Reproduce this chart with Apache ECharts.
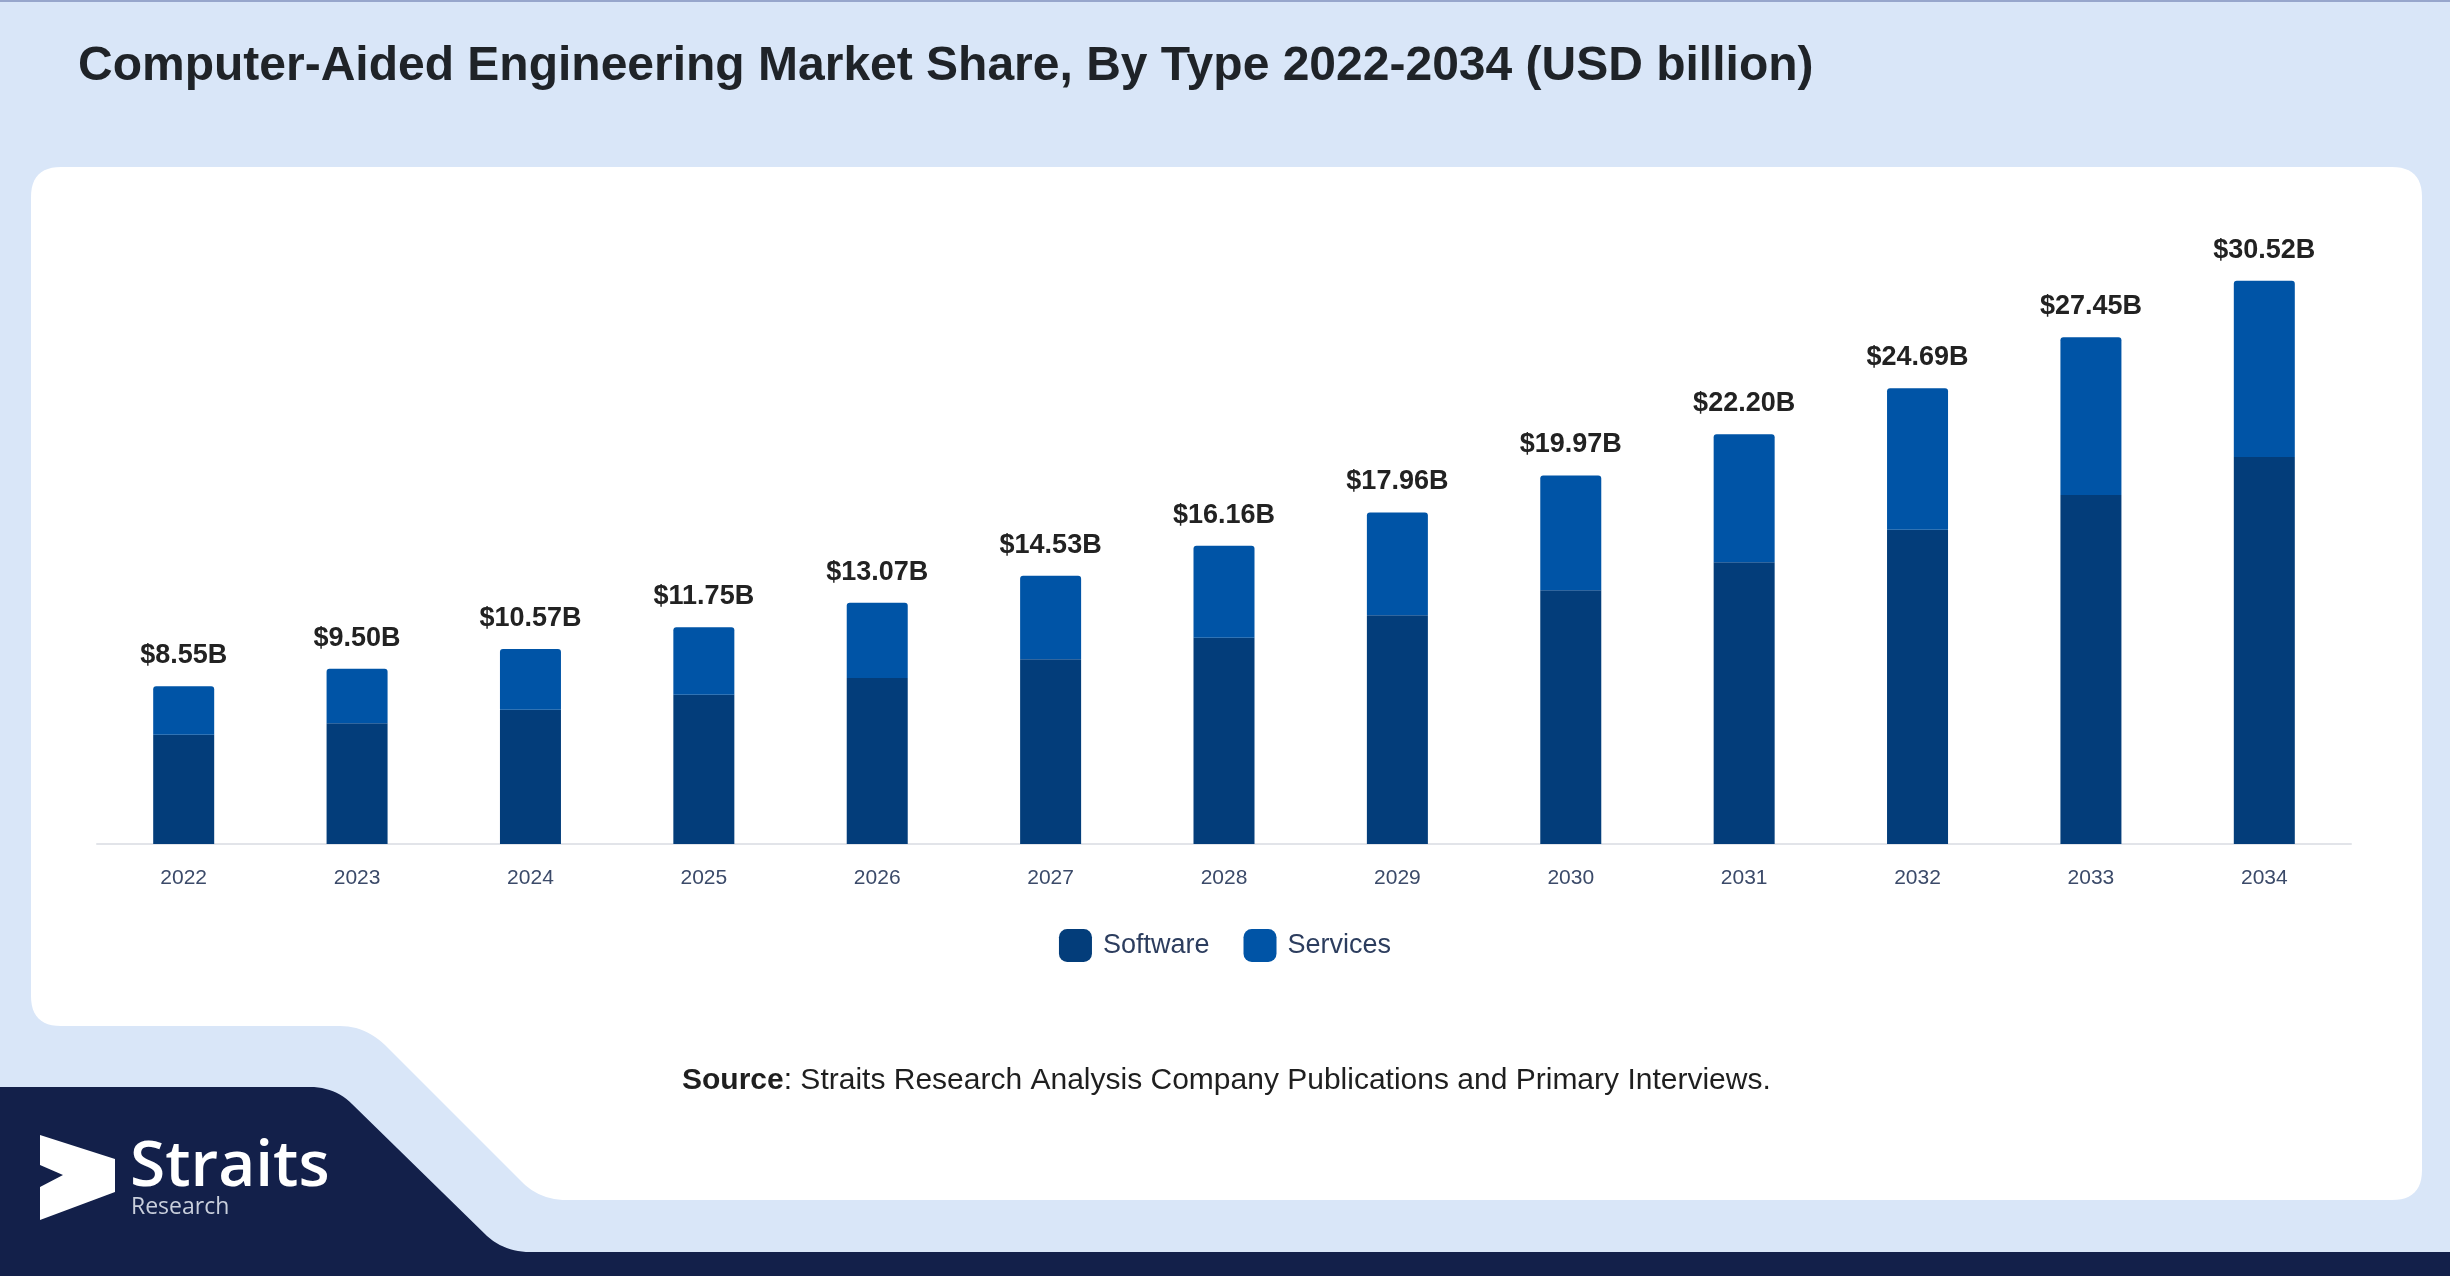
<!DOCTYPE html>
<html>
<head>
<meta charset="utf-8">
<script src="https://cdn.jsdelivr.net/npm/echarts@6/dist/echarts.min.js"></script>
<style>
html,body{margin:0;padding:0;background:#d9e6f8;}
#chart{width:2450px;height:1276px;}
</style>
</head>
<body>
<div id="chart"></div>
<script>
var years = ['2022','2023','2024','2025','2026','2027','2028','2029','2030','2031','2032','2033','2034'];
var software = [5.92, 6.54, 7.27, 8.08, 9.00, 10.01, 11.18, 12.40, 13.75, 15.26, 17.03, 18.91, 20.97];
var services = [2.63, 2.96, 3.30, 3.67, 4.07, 4.52, 4.98, 5.56, 6.22, 6.94, 7.66, 8.54, 9.55];
var totals = [8.55, 9.50, 10.57, 11.75, 13.07, 14.53, 16.16, 17.96, 19.97, 22.20, 24.69, 27.45, 30.52];
var titleText = 'Computer-Aided Engineering Market Share, By Type 2022-2034 (USD billion)';
var sourceText = ': Straits Research Analysis Company Publications and Primary Interviews.';

// decorative outline builder: segments of ['L',x,y] or ['Q',cx,cy,x,y]
function outline(start, segs) {
  var pts = [start.slice()];
  var cur = start.slice();
  segs.forEach(function (s) {
    if (s[0] === 'L') { cur = [s[1], s[2]]; pts.push(cur); }
    else {
      for (var i = 1; i <= 12; i++) {
        var t = i / 12, u = 1 - t;
        pts.push([u*u*cur[0] + 2*u*t*s[1] + t*t*s[3], u*u*cur[1] + 2*u*t*s[2] + t*t*s[4]]);
      }
      cur = [s[3], s[4]];
    }
  });
  return pts;
}
var panelPts = outline([61,167], [
  ['L',2392,167],['Q',2422,167,2422,197],['L',2422,1170],['Q',2422,1200,2392,1200],
  ['L',567,1200],['Q',540,1200,522,1182],['L',385,1045],['Q',365,1026,340,1026],
  ['L',61,1026],['Q',31,1026,31,996],['L',31,197],['Q',31,167,61,167]
]);
var navyPts = outline([0,1087], [
  ['L',310,1087],['Q',335,1087,352,1104],['L',487,1236],['Q',505,1252,530,1252],
  ['L',2450,1252],['L',2450,1276],['L',0,1276]
]);

var chart = echarts.init(document.getElementById('chart'));
var FONT = '"Liberation Sans", Arial, sans-serif';

var option = {
  backgroundColor: '#d9e6f8',
  animation: false,
  graphic: [
    { type: 'rect', z: -10, shape: {x: 0, y: 0, width: 2450, height: 2}, style: {fill: '#97a6cc'} },
    { type: 'polygon', z: -10, shape: { points: panelPts }, style: { fill: '#ffffff' } },
    { type: 'polygon', z: -10, shape: { points: navyPts }, style: { fill: '#13204a' } },
    { type: 'polygon', z: -5,
      shape: { points: [[40,1135],[115,1159],[115,1192],[40,1220],[40,1187],[63,1175],[40,1165]] },
      style: { fill: '#ffffff' } },
    { type: 'text', z: -5, x: 130, y: 1168,
      style: { text: 'Straits', fill: '#ffffff', font: '600 64px "Open Sans", sans-serif', verticalAlign: 'middle', align: 'left' } },
    { type: 'text', z: -5, x: 131, y: 1207,
      style: { text: 'Research', fill: '#c9cfdc', font: '23px "Open Sans", sans-serif', verticalAlign: 'middle', align: 'left' } },
    { type: 'text', x: 78, y: 67,
      style: { text: titleText, fill: '#1f2328', font: 'bold 48px ' + FONT, verticalAlign: 'middle', align: 'left' } },
    { type: 'text', x: 682, y: 1081,
      style: { text: '{b|Source}' + sourceText, fill: '#1f1f1f', font: '30px ' + FONT, verticalAlign: 'middle', align: 'left',
        rich: { b: { fontWeight: 'bold', fontSize: 30, fontFamily: FONT, fill: '#1f1f1f' } } } }
  ],
  legend: {
    left: 'center',
    top: 924,
    icon: 'roundRect',
    itemWidth: 33,
    itemHeight: 33,
    itemGap: 34,
    textStyle: { fontSize: 27, color: '#2c3d5e', fontFamily: FONT, padding: [0,0,0,6] },
    data: ['Software', 'Services']
  },
  grid: { left: 97, right: 99, top: 198, bottom: 432, containLabel: false },
  xAxis: {
    type: 'category',
    data: years,
    axisLine: { lineStyle: { color: '#e2e4e9', width: 2 } },
    axisTick: { show: false },
    axisLabel: { fontSize: 21, color: '#3b4a69', fontFamily: FONT, margin: 24 }
  },
  yAxis: {
    type: 'value', min: 0, max: 35, show: false,
    splitLine: { show: false }
  },
  series: [
    {
      name: 'Software', type: 'bar', stack: 'total', barWidth: 61,
      data: software,
      itemStyle: { color: '#033d7a' }
    },
    {
      name: 'Services', type: 'bar', stack: 'total', barWidth: 61,
      data: services,
      itemStyle: { color: '#0054a6', borderRadius: [3,3,0,0] },
      label: {
        show: true, position: 'top', distance: 17,
        fontSize: 27, fontWeight: 'bold', color: '#222222', fontFamily: FONT,
        formatter: function (p) { return '$' + totals[p.dataIndex].toFixed(2) + 'B'; }
      }
    }
  ]
};
chart.setOption(option);
</script>
</body>
</html>
